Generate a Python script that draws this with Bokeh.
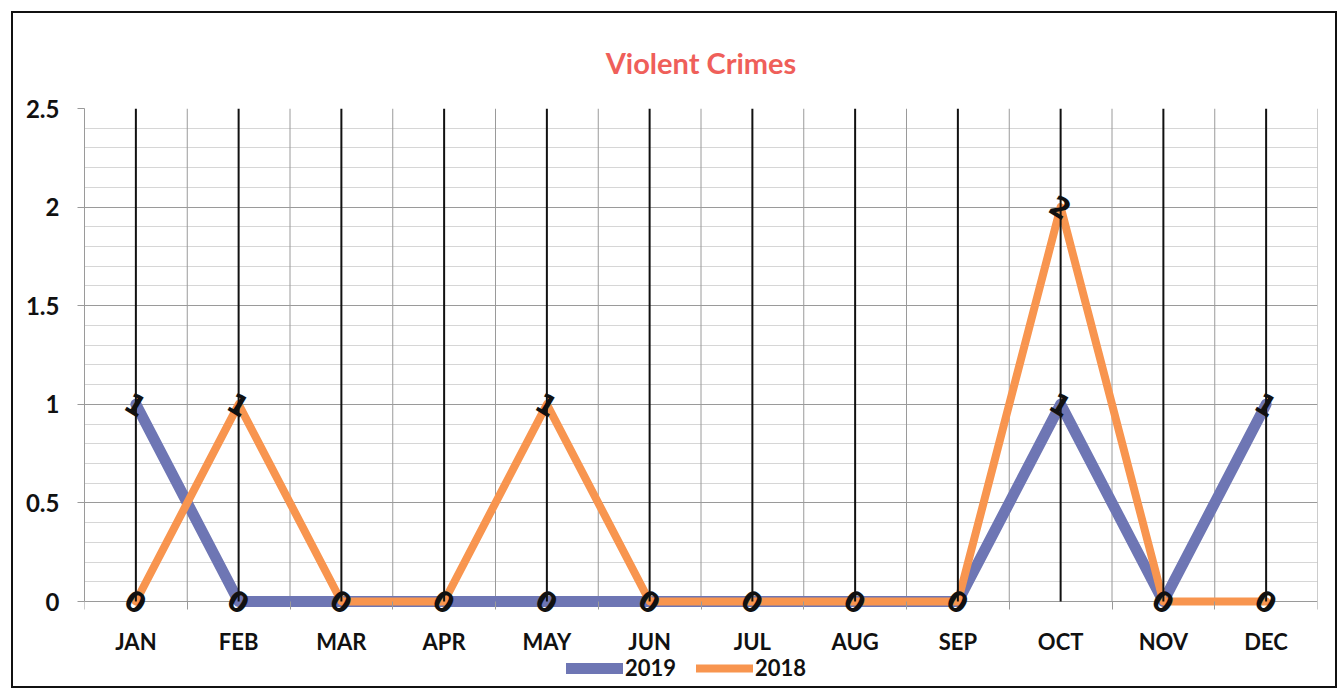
from bokeh.plotting import figure
from bokeh.models import (Range1d, FixedTicker, CustomJSTickFormatter, Legend,
                          LegendItem, Title, ColumnDataSource)
from bokeh.core.properties import value
from bokeh.embed import file_html
from bokeh.resources import INLINE

months = ["JAN", "FEB", "MAR", "APR", "MAY", "JUN", "JUL", "AUG", "SEP", "OCT", "NOV", "DEC"]
s2019 = [1, 0, 0, 0, 0, 0, 0, 0, 0, 1, 0, 1]
s2018 = [0, 1, 0, 0, 1, 0, 0, 0, 0, 2, 0, 0]
y_major = [0, 0.5, 1, 1.5, 2, 2.5]
y_minor = [0.1, 0.2, 0.3, 0.4, 0.6, 0.7, 0.8, 0.9, 1.1, 1.2, 1.3, 1.4,
           1.6, 1.7, 1.8, 1.9, 2.1, 2.2, 2.3, 2.4]

x = list(range(len(months)))
bounds = [i - 0.5 for i in range(len(months) + 1)]
ymin, ymax = y_major[0], y_major[-1]

FONT = "Lato"
BLUE = "#6E76B4"
ORANGE = "#F8954F"
GRID = "#9a9a9a"

# layout (pixels)
DATA_H = 493          # height of the 0..2.5 area
BELOW_H = 81          # room under the zero line for month labels and legend
px_per_unit = DATA_H / (ymax - ymin)
y_start = ymin - BELOW_H / px_per_unit

p = figure(frame_width=1233, frame_height=DATA_H + BELOW_H, output_backend="svg",
           toolbar_location=None,
           x_range=Range1d(bounds[0], bounds[-1]), y_range=Range1d(y_start, ymax),
           min_border_left=71, min_border_right=18, min_border_top=95, min_border_bottom=4,
           background_fill_color="white", border_fill_color="white")
p.styles = {"border": "2px solid #111", "margin-left": "11px", "margin-top": "11px"}
p.outline_line_color = None

# title
p.title = None
t = Title(text="Violent Crimes", align="center", text_font_size="29px",
          text_color="#EF5F5A", text_font=FONT, text_font_style="bold", standoff=57)
p.add_layout(t, "above")

# grids
p.xgrid.visible = False
p.ygrid.ticker = FixedTicker(ticks=y_major, minor_ticks=y_minor)
p.ygrid.grid_line_color = GRID
p.ygrid.minor_grid_line_color = "#d6d6d6"
p.ygrid.minor_grid_line_width = 1
# vertical category-boundary grid lines, limited to the value area
p.segment(x0=bounds, y0=[ymin] * len(bounds), x1=bounds, y1=[ymax] * len(bounds),
          line_color=GRID, line_width=1)

# x axis, pinned at zero
xa = p.xaxis[0]
xa.axis_label = None
xa.fixed_location = ymin
xa.ticker = FixedTicker(ticks=x, minor_ticks=bounds)
xa.major_label_overrides = {i: m for i, m in zip(x, months)}
xa.axis_line_color = None
xa.major_tick_line_color = None
xa.major_tick_out = 0
xa.major_tick_in = 0
xa.minor_tick_line_color = GRID
xa.minor_tick_out = 8
xa.minor_tick_in = 0
xa.major_label_standoff = 18
xa.major_label_text_font = FONT
xa.major_label_text_font_style = "bold"
xa.major_label_text_font_size = "22px"
xa.major_label_text_color = "#111"

# y axis
ya = p.yaxis[0]
ya.axis_label = None
ya.bounds = (ymin, ymax)
ya.ticker = FixedTicker(ticks=y_major)
ya.formatter = CustomJSTickFormatter(code="return tick.toString();")
ya.axis_line_color = GRID
ya.major_tick_line_color = GRID
ya.major_tick_out = 7
ya.major_tick_in = 0
ya.minor_tick_line_color = None
ya.major_label_standoff = 18
ya.major_label_text_font = FONT
ya.major_label_text_font_style = "bold"
ya.major_label_text_font_size = "24px"
ya.major_label_text_color = "#111"

# series
r19 = p.line(x, s2019, line_color=BLUE, line_width=11, line_join="round", line_cap="round")
r18 = p.line(x, s2018, line_color=ORANGE, line_width=8, line_join="round", line_cap="round")

# black vertical drop lines
p.segment(x0=x, y0=[ymin] * len(x), x1=x, y1=[ymax] * len(x), line_color="#111", line_width=2)

# hand-written value marks
mx, my, mt = [], [], []
for i in x:
    for v in sorted(set([s2019[i], s2018[i]])):
        mx.append(i)
        my.append(v)
        mt.append(str(v))
src = ColumnDataSource(dict(x=mx, y=my, t=mt))
p.text(x="x", y="y", text="t", source=src, text_align="center", text_baseline="middle",
       text_font=value("DejaVu Sans"), text_font_style="bold", text_font_size="28px",
       text_color="#111", angle=-0.55)

legend = Legend(items=[LegendItem(label="2019", renderers=[r19]),
                       LegendItem(label="2018", renderers=[r18])],
                orientation="horizontal", location=(482, 1),
                label_text_font=FONT, label_text_font_style="bold", label_text_font_size="22px",
                label_text_color="#111", glyph_width=57, glyph_height=22, spacing=20,
                label_standoff=2, border_line_color=None, background_fill_alpha=0,
                padding=0, margin=0)
p.add_layout(legend, "center")

open("out.html", "w").write(file_html(p, INLINE))
